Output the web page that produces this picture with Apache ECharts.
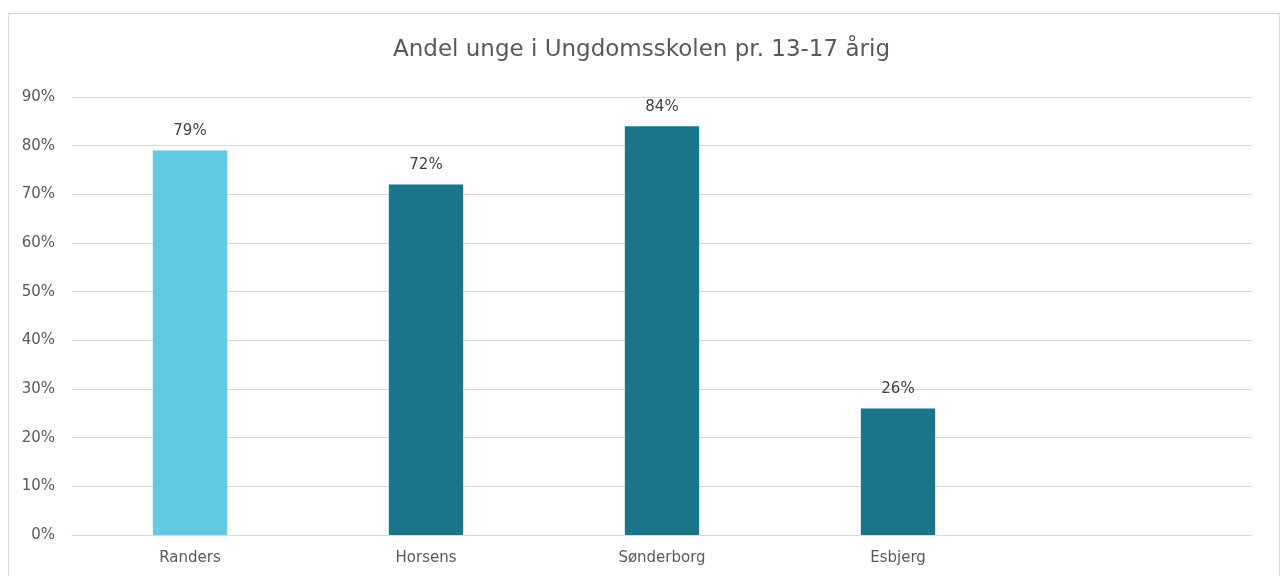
<!DOCTYPE html>
<html>
<head>
<meta charset="utf-8">
<script src="https://cdn.jsdelivr.net/npm/echarts@6/dist/echarts.min.js"></script>
<style>
  html, body { margin: 0; padding: 0; background: #fff; }
  #frame { position: absolute; left: 8px; top: 13px; width: 1272px; height: 600px; border: 1px solid #d9d9d9; box-sizing: border-box; }
  #main { position: absolute; left: 0; top: 0; width: 1283px; height: 576px; }
</style>
</head>
<body>
<div id="frame"></div>
<div id="main"></div>
<script>
// categories (last slot is empty in the original)
const kommuner = ['Randers', 'Horsens', 'Sønderborg', 'Esbjerg', ''];
const andel = [79, 72, 84, 26, null];
const farver = ['#62c9e3', '#1a758a', '#1a758a', '#1a758a', '#1a758a'];
const yTicks = [0, 10, 20, 30, 40, 50, 60, 70, 80, 90];

const chart = echarts.init(document.getElementById('main'), null, { renderer: 'canvas' });

const option = {
  backgroundColor: 'transparent',
  animation: false,
  textStyle: { fontFamily: 'DejaVu Sans' },
  title: {
    text: 'Andel unge i Ungdomsskolen pr. 13-17 årig',
    left: 'center',
    top: 34,
    textStyle: { fontSize: 23, fontWeight: 'normal', color: '#595959', fontFamily: 'DejaVu Sans' }
  },
  grid: { left: 72, right: 31, top: 97, bottom: 41 },
  xAxis: {
    type: 'category',
    data: kommuner,
    axisLine: { show: true, lineStyle: { color: '#d9d9d9', width: 1 } },
    axisTick: { show: false },
    axisLabel: { color: '#595959', fontSize: 15, margin: 16 }
  },
  yAxis: {
    type: 'value',
    min: yTicks[0],
    max: yTicks[yTicks.length - 1],
    interval: 10,
    axisLine: { show: false },
    axisTick: { show: false },
    axisLabel: { color: '#595959', fontSize: 15, margin: 17, formatter: v => v + '%' },
    splitLine: { lineStyle: { color: '#d9d9d9', width: 1 } }
  },
  series: [{
    type: 'bar',
    barWidth: '31.5%',
    data: andel.map((v, i) => ({ value: v, itemStyle: { color: farver[i] } })),
    label: {
      show: true,
      position: 'top',
      distance: 12,
      color: '#404040',
      fontSize: 15,
      formatter: p => p.value == null ? '' : p.value + '%'
    }
  }]
};

chart.setOption(option);
</script>
</body>
</html>
